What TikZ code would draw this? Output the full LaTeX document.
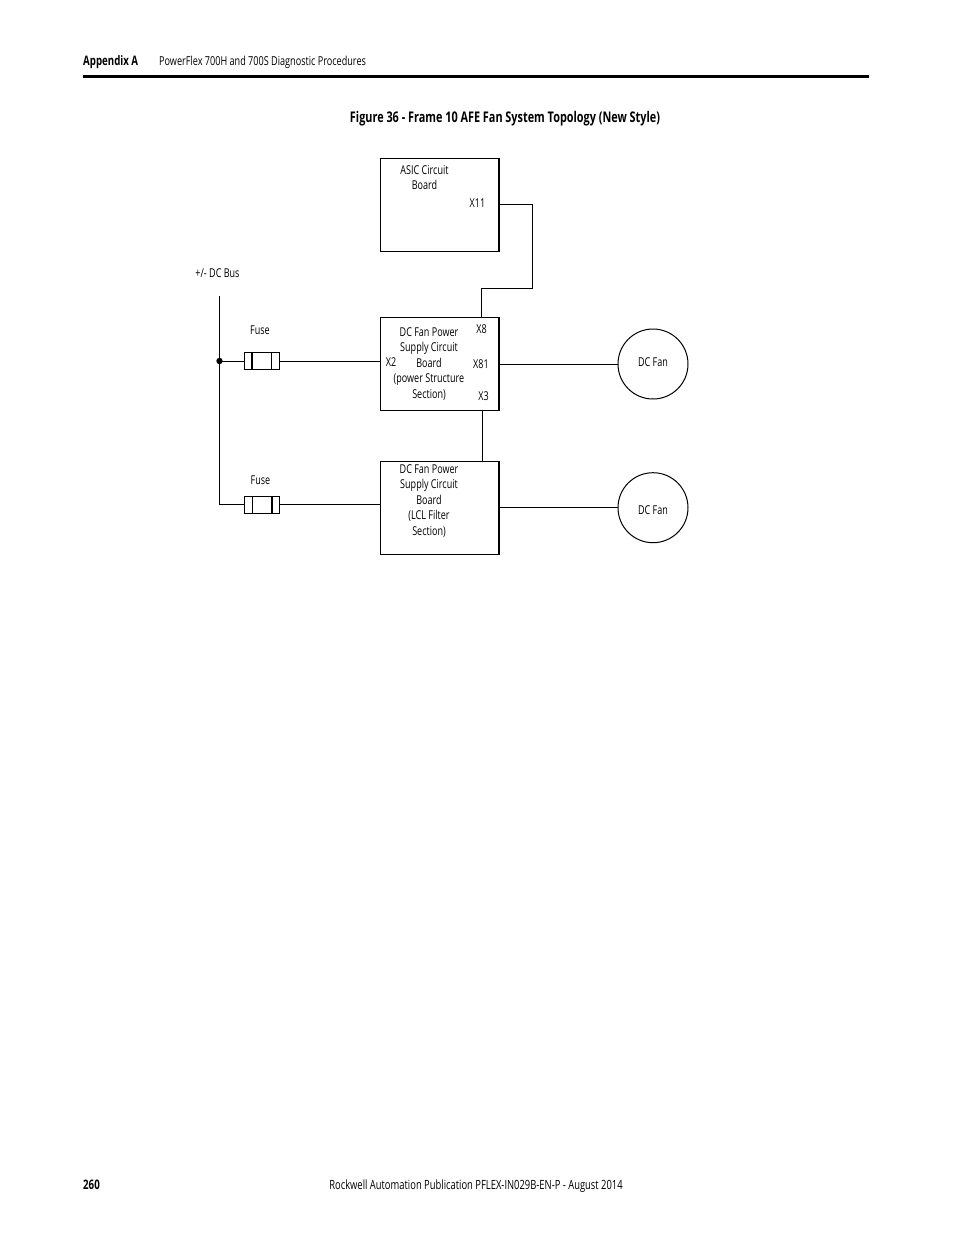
\documentclass[tikz,border=0pt]{standalone}
\usepackage{fontspec}
\setmainfont[FakeStretch=0.8]{Fira Sans}
\newfontfamily\cond[FakeStretch=0.74]{Open Sans}
\usetikzlibrary{calc}
\tikzset{
 x=1pt,y=-1pt,
 board/.style={draw=black,line width=1pt,minimum width=118.5pt,minimum height=93pt,inner sep=0pt,outer sep=0pt},
 fan/.style={draw=black,line width=1pt,circle,minimum size=70pt,inner sep=0pt,outer sep=0pt},
 fusebody/.style={draw=black,line width=1pt,minimum width=35.5pt,minimum height=17.5pt,inner sep=0pt,outer sep=0pt},
 wire/.style={draw=black,line width=1pt},
 lbl/.style={font=\cond\fontsize{12.2}{15.5}\selectfont,inner sep=0pt,align=center,text=black},
 head/.style={font=\cond\fontsize{12.3}{14}\selectfont,inner sep=0pt,anchor=base west},
 headb/.style={font=\cond\bfseries\fontsize{13.1}{14}\selectfont,inner sep=0pt,anchor=base west},
}
\begin{document}
\begin{tikzpicture}
\useasboundingbox[fill=white] (0,0) rectangle (954,1235);
% page furniture
\node[headb] (app) at (83,65) {Appendix A};
\node[head] (title) at (159,65) {PowerFlex 700H and 700S Diagnostic Procedures};
\fill[black] (83,75) rectangle (869,78);
\node[font=\cond\bfseries\fontsize{14.7}{16}\selectfont,inner sep=0pt,anchor=base] (fig) at (505,122) {Figure 36 - Frame 10 AFE Fan System Topology (New Style)};
\node[headb] (pg) at (83,1189) {260};
\node[font=\cond\fontsize{12.7}{14}\selectfont,inner sep=0pt,anchor=base] (pub) at (476,1189) {Rockwell Automation Publication PFLEX-IN029B-EN-P - August 2014};
% boards
\node[board] (asic) at (439.75,204.75) {};
\node[board] (psu1) at (439.75,364) {};
\node[board] (psu2) at (439.75,507.5) {};
\node[fan] (fan1) at (653,364) {};
\node[fan] (fan2) at (653,507.7) {};
\node[fusebody] (fuse1) at (262,360.75) {};
\node[fusebody] (fuse2) at (262,504.75) {};
% fuse bands
\draw[line width=2pt] (251.5,352) -- (251.5,369.5);
\draw[line width=1pt] (271.5,352) -- (271.5,369.5);
\draw[line width=1pt] (252,496) -- (252,513.5);
\draw[line width=2pt] (272,496) -- (272,513.5);
% connector points
\coordinate (bustop) at (219.5,296);
\coordinate (x11) at (asic.east |- 0,204.5);
\coordinate (x8) at (481.5,317.5);
\coordinate (x3) at (482.5,410.5);
\coordinate (x3b) at (482.5,461);
\coordinate (jn) at (219.5,361);
\coordinate (busbot) at (219.5,504.5);
\draw[wire] (x11) -- (532.5,204.5) -- (532.5,288.5) -- (481.5,288.5) -- (x8);
\draw[wire] (x3) -- (x3b);
\draw[wire] (bustop) -- (jn) -- (busbot) -- (fuse2.west |- busbot);
\draw[wire] (jn) -- (fuse1.west |- jn);
\draw[wire] (fuse1.east |- jn) -- (psu1.west |- jn);
\draw[wire] (fuse2.east |- busbot) -- (psu2.west |- busbot);
\draw[wire] (psu1.east |- fan1) -- (fan1.west);
\draw[wire] (psu2.east |- fan2) -- (fan2.west);
\fill[black] (jn) circle (3.2pt);
% heavier right edges of boards
\draw[line width=2pt] (asic.north east) -- (asic.south east);
\draw[line width=2pt] (psu1.north east) -- (psu1.south east);
\draw[line width=2pt] (psu2.north east) -- (psu2.south east);
% labels
\node[lbl] (asict) at (424.5,177.6) {ASIC Circuit\\Board};
\node[lbl] (xa) at (477.5,202.7) {X11};
\node[lbl] (dcb) at (217.5,272.7) {+/- DC Bus};
\node[lbl] (f1) at (260,330.2) {Fuse};
\node[lbl] (f2) at (260.5,480.2) {Fuse};
\node[lbl] (p1t) at (429,363.6) {DC Fan Power\\Supply Circuit\\Board\\(power Structure\\Section)};
\node[lbl] (p2t) at (429,500.6) {DC Fan Power\\Supply Circuit\\Board\\(LCL Filter\\Section)};
\node[lbl] (l8) at (481.5,329.2) {X8};
\node[lbl] (l2) at (391,362.2) {X2};
\node[lbl] (l81) at (481,364.2) {X81};
\node[lbl] (l3) at (483.5,396.2) {X3};
\node[lbl] (fa) at (653,362.2) {DC Fan};
\node[lbl] (fb) at (653,510.2) {DC Fan};
\end{tikzpicture}
\end{document}
